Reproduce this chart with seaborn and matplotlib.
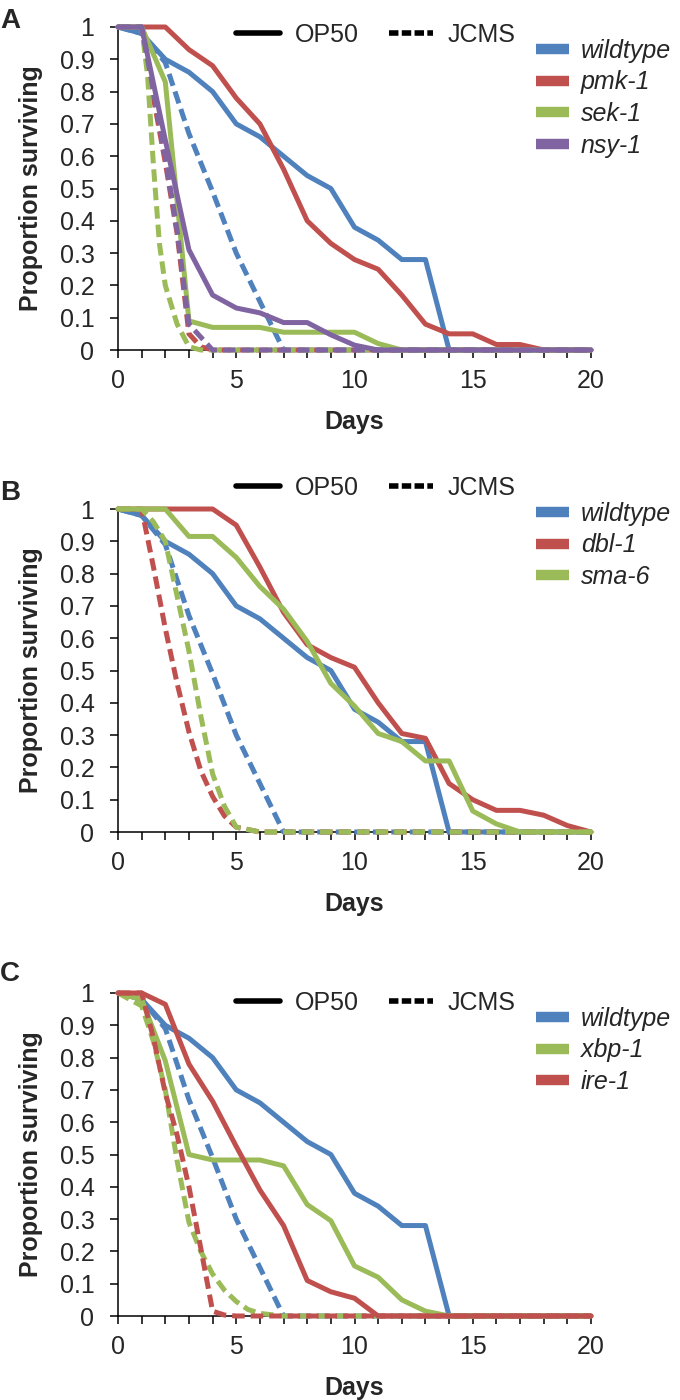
import seaborn as sns
import matplotlib.pyplot as plt
from matplotlib.lines import Line2D
import pandas as pd

# survival data (proportion surviving vs days)
days = list(range(21))

wildtype_op50 = [1, 0.98, 0.9, 0.86, 0.8, 0.7, 0.66, 0.6, 0.54, 0.5, 0.38, 0.34, 0.28, 0.28, 0, 0, 0, 0, 0, 0, 0]
wildtype_jcms_days = [0, 1, 2, 3, 4, 5, 6, 7, 20]
wildtype_jcms = [1, 0.98, 0.89, 0.67, 0.49, 0.3, 0.15, 0, 0]

# panel A
pmk1_op50 = [1, 1, 1, 0.93, 0.88, 0.78, 0.7, 0.56, 0.4, 0.33, 0.28, 0.25, 0.17, 0.08, 0.05, 0.05, 0.017, 0.017, 0, 0, 0]
pmk1_jcms_days = [0, 1, 1.5, 2, 2.5, 3, 3.5, 4, 20]
pmk1_jcms = [1, 1, 0.78, 0.58, 0.36, 0.05, 0.01, 0, 0]
sek1_op50 = [1, 1, 0.83, 0.09, 0.07, 0.07, 0.07, 0.055, 0.055, 0.055, 0.055, 0.02, 0, 0, 0, 0, 0, 0, 0, 0, 0]
sek1_jcms_days = [0, 1, 1.25, 1.5, 1.75, 2, 2.5, 3, 3.5, 20]
sek1_jcms = [1, 1, 0.85, 0.57, 0.33, 0.2, 0.08, 0.01, 0, 0]
nsy1_op50 = [1, 1, 0.65, 0.31, 0.17, 0.13, 0.115, 0.085, 0.085, 0.047, 0.015, 0, 0, 0, 0, 0, 0, 0, 0, 0, 0]
nsy1_jcms_days = [0, 1, 1.5, 2, 2.5, 3, 3.5, 4, 20]
nsy1_jcms = [1, 1, 0.8, 0.6, 0.37, 0.08, 0.04, 0, 0]

# panel B
dbl1_op50 = [1, 1, 1, 1, 1, 0.95, 0.82, 0.68, 0.58, 0.54, 0.51, 0.4, 0.305, 0.29, 0.15, 0.1, 0.067, 0.067, 0.052, 0.02, 0]
dbl1_jcms_days = [0, 1, 1.5, 2, 2.5, 3, 3.5, 4, 4.5, 5, 6, 20]
dbl1_jcms = [1, 1, 0.82, 0.63, 0.46, 0.31, 0.19, 0.11, 0.05, 0.015, 0, 0]
sma6_op50 = [1, 1, 1, 0.915, 0.915, 0.85, 0.76, 0.69, 0.59, 0.46, 0.39, 0.305, 0.28, 0.22, 0.22, 0.065, 0.025, 0, 0, 0, 0]
sma6_jcms_days = [0, 1, 1.5, 2, 2.5, 3, 3.5, 4, 4.5, 5, 6, 20]
sma6_jcms = [1, 1, 0.96, 0.9, 0.73, 0.56, 0.36, 0.18, 0.08, 0.015, 0, 0]

# panel C
xbp1_op50 = [1, 0.98, 0.79, 0.5, 0.483, 0.483, 0.483, 0.465, 0.345, 0.295, 0.155, 0.12, 0.05, 0.015, 0, 0, 0, 0, 0, 0, 0]
xbp1_jcms_days = [0, 0.5, 1, 1.5, 2, 2.5, 3, 3.5, 4, 4.5, 5, 5.5, 6, 7, 20]
xbp1_jcms = [1, 0.98, 0.96, 0.85, 0.7, 0.48, 0.29, 0.2, 0.13, 0.08, 0.045, 0.02, 0.008, 0, 0]
ire1_op50 = [1, 1, 0.965, 0.78, 0.665, 0.525, 0.39, 0.28, 0.11, 0.075, 0.055, 0, 0, 0, 0, 0, 0, 0, 0, 0, 0]
ire1_jcms_days = [0, 1, 1.5, 2, 2.5, 3, 3.5, 4, 4.5, 5, 20]
ire1_jcms = [1, 1, 0.86, 0.69, 0.56, 0.4, 0.21, 0.015, 0.003, 0, 0]

BLUE, RED, GREEN, PURPLE = "#4F81BD", "#C0504D", "#9BBB59", "#8064A2"

panels = [
    ("A", [("wildtype", BLUE, wildtype_op50, wildtype_jcms_days, wildtype_jcms),
           ("pmk-1", RED, pmk1_op50, pmk1_jcms_days, pmk1_jcms),
           ("sek-1", GREEN, sek1_op50, sek1_jcms_days, sek1_jcms),
           ("nsy-1", PURPLE, nsy1_op50, nsy1_jcms_days, nsy1_jcms)]),
    ("B", [("wildtype", BLUE, wildtype_op50, wildtype_jcms_days, wildtype_jcms),
           ("dbl-1", RED, dbl1_op50, dbl1_jcms_days, dbl1_jcms),
           ("sma-6", GREEN, sma6_op50, sma6_jcms_days, sma6_jcms)]),
    ("C", [("wildtype", BLUE, wildtype_op50, wildtype_jcms_days, wildtype_jcms),
           ("xbp-1", GREEN, xbp1_op50, xbp1_jcms_days, xbp1_jcms),
           ("ire-1", RED, ire1_op50, ire1_jcms_days, ire1_jcms)]),
]

sns.set_style("ticks")
plt.rcParams["font.family"] = ["Liberation Sans", "DejaVu Sans"]
FS = 18

W, H = 680, 1400
fig = plt.figure(figsize=(W / 100, H / 100), dpi=100)

# axes boxes in pixels: (top, bottom)
boxes = [(27, 350), (509, 832), (993, 1316)]
x_left, x_right = 118, 591
med_legend_y = [35, 488, 1003]
strain_legend_top = [39, 502, 1007]
letter_top = [8, 480, 961]

for (letter, series), (top, bottom), my, sy, lt in zip(panels, boxes, med_legend_y, strain_legend_top, letter_top):
    ax = fig.add_axes([x_left / W, 1 - bottom / H, (x_right - x_left) / W, (bottom - top) / H])
    for name, color, op50, jd, jcms in series:
        d1 = pd.DataFrame({"day": days, "surv": op50})
        sns.lineplot(data=d1, x="day", y="surv", ax=ax, color=color, lw=3.6,
                     estimator=None, sort=False, clip_on=False, zorder=3)
        d2 = pd.DataFrame({"day": jd, "surv": jcms})
        sns.lineplot(data=d2, x="day", y="surv", ax=ax, color=color, lw=3.6,
                     estimator=None, sort=False, clip_on=False, zorder=3,
                     linestyle=(0, (2.5, 1.2)))
    ax.set_xlim(0, 20)
    ax.set_ylim(0, 1)
    ax.set_xticks(range(0, 21, 5))
    ax.set_xticks(range(0, 21), minor=True)
    ax.set_yticks([i / 10 for i in range(11)])
    ax.set_yticklabels(["0"] + [f"{i/10:.1f}" for i in range(1, 10)] + ["1"])
    ax.tick_params(axis="both", which="both", direction="out", length=6, width=1.1,
                   color="black", labelsize=FS)
    ax.tick_params(axis="y", pad=11)
    ax.tick_params(axis="x", pad=8)
    for s in ("top", "right"):
        ax.spines[s].set_visible(False)
    for s in ("left", "bottom"):
        ax.spines[s].set_linewidth(1.1)
        ax.spines[s].set_color("black")
    ax.set_xlabel("Days", fontsize=FS, fontweight="bold", labelpad=12)
    ax.set_ylabel("Proportion surviving", fontsize=FS, fontweight="bold", labelpad=12)

    # medium legend (OP50 / JCMS)
    med_handles = [Line2D([], [], color="black", lw=4),
                   Line2D([], [], color="black", lw=4, linestyle=(0, (1.7, 0.6)))]
    fig.legend(med_handles, ["OP50", "JCMS"], ncol=2, frameon=False,
               loc="center left", bbox_to_anchor=(236 / W, 1 - my / H),
               fontsize=FS, handlelength=1.75, handletextpad=0.6,
               columnspacing=1.2, borderpad=0, borderaxespad=0)

    # strain legend
    st_handles = [Line2D([], [], color=c, lw=7.5, solid_capstyle="butt") for _, c, *_ in series]
    fig.legend(st_handles, [n for n, *_ in series], frameon=False,
               loc="upper left", bbox_to_anchor=(536 / W, 1 - sy / H),
               prop={"style": "italic", "size": FS}, handlelength=1.3,
               handletextpad=0.5, labelspacing=0.3, borderpad=0, borderaxespad=0)

    fig.text(0, 1 - lt / H, letter, fontsize=20, fontweight="bold", va="top", ha="left")

fig.savefig("out.png", dpi=100)
